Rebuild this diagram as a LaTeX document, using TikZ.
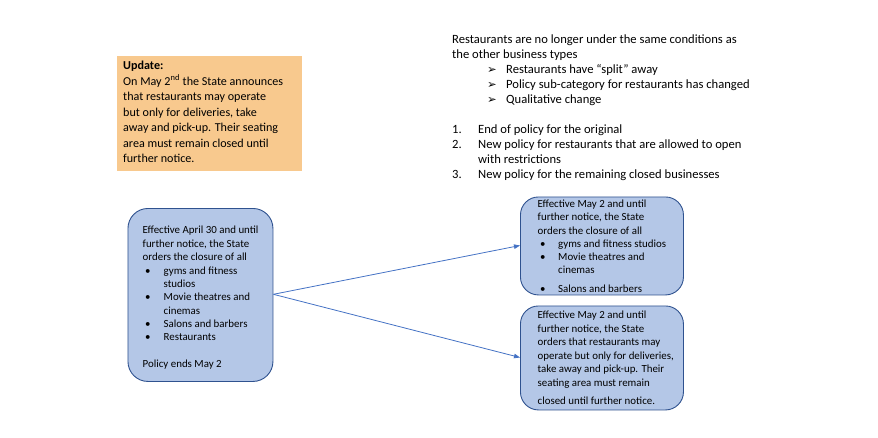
\documentclass[tikz,border=0pt]{standalone}
\usepackage{fontspec}
\setmainfont{Carlito}
\newfontfamily\symfont{DejaVu Sans}
\usetikzlibrary{arrows.meta}
\definecolor{boxfill}{HTML}{B4C7E7}
\definecolor{boxline}{HTML}{2F528F}
\definecolor{arrowcol}{HTML}{4472C4}
\definecolor{orangefill}{HTML}{F8C98E}
\tikzset{
  bluebox/.style={draw=boxline, fill=boxfill, line width=0.9pt},
  orangebox/.style={fill=orangefill, draw=none},
  small/.style={inner sep=0pt, anchor=base west, font=\fontsize{10.9pt}{12pt}\selectfont},
  large/.style={inner sep=0pt, anchor=base west, font=\fontsize{12.6pt}{14pt}\selectfont},
  upd/.style={inner sep=0pt, anchor=base west, font=\fontsize{12.1pt}{14pt}\selectfont},
  link/.style={draw=arrowcol, line width=0.8pt, -{Triangle[length=6pt,width=4.5pt]}}
}
\newcommand{\tl}[5]{\node[#1] (#2) at (#3,#4) {#5};}
\newcommand{\arrbul}{{\symfont\fontsize{11.5pt}{12pt}\selectfont ➢}}
\begin{document}
\begin{tikzpicture}[x=1pt,y=-1pt]
\useasboundingbox (0,0) rectangle (878,437);
% orange update box
\path[orangebox] (117,56) rectangle (302,171);
\coordinate (ob) at (117,56);
\tl{upd}{o1}{123}{69}{\textbf{Update:}}
\tl{upd}{o2}{123}{85}{On May 2\textsuperscript{nd} the State announces}
\tl{upd}{o3}{123}{100.5}{that restaurants may operate}
\tl{upd}{o4}{123}{116}{but only for deliveries, take}
\tl{upd}{o5}{123}{131.5}{away and pick-up. Their seating}
\tl{upd}{o6}{123}{147}{area must remain closed until}
\tl{upd}{o7}{123}{162.5}{further notice.}
% right top text
\tl{large}{r1}{452}{43}{Restaurants are no longer under the same conditions as}
\tl{large}{r2}{452}{58}{the other business types}
\tl{large}{b1}{487}{73}{\arrbul}
\tl{large}{r3}{506}{73}{Restaurants have “split” away}
\tl{large}{b2}{487}{88}{\arrbul}
\tl{large}{r4}{506}{88}{Policy sub-category for restaurants has changed}
\tl{large}{b3}{487}{103}{\arrbul}
\tl{large}{r5}{506}{103}{Qualitative change}
\tl{large}{n1}{452}{133.5}{1.}
\tl{large}{r6}{478}{133.5}{End of policy for the original}
\tl{large}{n2}{452}{148.5}{2.}
\tl{large}{r7}{478}{148.5}{New policy for restaurants that are allowed to open}
\tl{large}{r8}{478}{163.5}{with restrictions}
\tl{large}{n3}{452}{178.5}{3.}
\tl{large}{r9}{478}{178.5}{New policy for the remaining closed businesses}
% left box
\node[bluebox, rounded corners=20pt, minimum width=145pt, minimum height=173pt, anchor=north west, inner sep=0pt] (L) at (127.5,208) {};
\tl{small}{l1}{142.5}{233.5}{Effective April 30 and until}
\tl{small}{l2}{142.5}{247}{further notice, the State}
\tl{small}{l3}{142.5}{260.5}{orders the closure of all}
\tl{small}{lb1}{145}{274}{•}
\tl{small}{l4}{163.5}{274}{gyms and fitness}
\tl{small}{l5}{163.5}{287.5}{studios}
\tl{small}{lb2}{145}{300.5}{•}
\tl{small}{l6}{163.5}{300.5}{Movie theatres and}
\tl{small}{l7}{163.5}{314}{cinemas}
\tl{small}{lb3}{145}{327}{•}
\tl{small}{l8}{163.5}{327}{Salons and barbers}
\tl{small}{lb4}{145}{340.5}{•}
\tl{small}{l9}{163.5}{340.5}{Restaurants}
\tl{small}{l10}{142.5}{367.5}{Policy ends May 2}
% right top box
\node[bluebox, rounded corners=18pt, minimum width=163pt, minimum height=98pt, anchor=north west, inner sep=0pt] (RT) at (520,196.5) {};
\tl{small}{t1}{537.5}{207}{Effective May 2 and until}
\tl{small}{t2}{537.5}{220.5}{further notice, the State}
\tl{small}{t3}{537.5}{234}{orders the closure of all}
\tl{small}{tb1}{540}{247}{•}
\tl{small}{t4}{558}{247}{gyms and fitness studios}
\tl{small}{tb2}{540}{260}{•}
\tl{small}{t5}{558}{260}{Movie theatres and}
\tl{small}{t6}{558}{273.5}{cinemas}
\tl{small}{tb3}{540}{292}{•}
\tl{small}{t7}{558}{292}{Salons and barbers}
% right bottom box
\node[bluebox, rounded corners=18pt, minimum width=163pt, minimum height=104pt, anchor=north west, inner sep=0pt] (RB) at (520,305.5) {};
\tl{small}{s1}{537.5}{318.5}{Effective May 2 and until}
\tl{small}{s2}{537.5}{332}{further notice, the State}
\tl{small}{s3}{537.5}{345.5}{orders that restaurants may}
\tl{small}{s4}{537.5}{359}{operate but only for deliveries,}
\tl{small}{s5}{537.5}{372.5}{take away and pick-up. Their}
\tl{small}{s6}{537.5}{386}{seating area must remain}
\tl{small}{s7}{537.5}{404.5}{closed until further notice.}
% arrows
\coordinate (src) at (L.east |- 0,294.3);
\coordinate (dt) at (RT.west |- 0,245.5);
\coordinate (db) at (RB.west |- 0,357.5);
\draw[link] (src) -- (dt);
\draw[link] (src) -- (db);
\end{tikzpicture}
\end{document}
